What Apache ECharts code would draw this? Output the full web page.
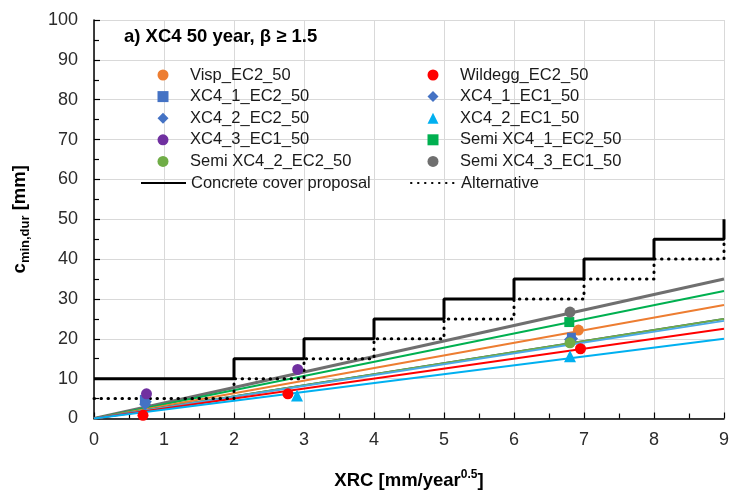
<!DOCTYPE html>
<html>
<head>
<meta charset="utf-8">
<script src="https://cdn.jsdelivr.net/npm/echarts@6/dist/echarts.min.js"></script>
<style>
  html, body { margin: 0; padding: 0; background: #fff; }
  #chart { width: 732px; height: 495px; }
</style>
</head>
<body>
<div id="chart"></div>
<script>
// Measured points [XRC, c_min,dur]
const visp      = [[6.92, 22.2]];
const wildegg   = [[0.70, 0.8], [2.77, 6.2], [6.95, 17.5]];
const xc41ec2   = [[0.72, 4.8], [6.82, 20.4]];
const xc41ec1   = [[0.74, 4.2], [6.83, 20.0]];
const xc42ec2   = [[0.73, 3.6], [6.80, 19.8]];
const xc42ec1   = [[2.90, 5.8], [6.80, 15.6]];
const xc43ec1   = [[0.75, 6.2], [2.91, 12.3]];
const semi1     = [[6.79, 24.2]];
const semi2     = [[6.80, 19.0]];
const semi3     = [[6.80, 26.7]];

// Trend lines through the origin: value reached at XRC = 9
const trendNames = ['semi3', 'semi1', 'visp', 'xc41', 'semi2', 'xc42', 'wildegg', 'xc42ec1'];
const trendEnd   = [35, 32, 28.5, 25, 25, 24.5, 22.5, 20];
const trendColor = ['#6f6f6f', '#00b050', '#ed7d31', '#1f3c78', '#70ad47', '#4aa9e6', '#ff0000', '#00b0f0'];

// Step limits
const stepX        = [0, 2, 3, 4, 5, 6, 7, 8, 9];
const coverY       = [10, 15, 20, 25, 30, 35, 40, 45, 50];
const alternativeY = [5, 10, 15, 20, 25, 30, 35, 40, 45];

const xTicks = [0, 9, 1];
const yTicks = [0, 100, 10];

const FONT = '"Liberation Sans", Arial, sans-serif';

const trendSeries = trendEnd.map((v, i) => ({
  name: 'trend_' + trendNames[i],
  type: 'line',
  data: [[0, 0], [9, v]],
  showSymbol: false,
  symbol: 'none',
  silent: true,
  lineStyle: { color: trendColor[i], width: i === 0 ? 3 : 2 },
  z: 2
}));

function pts(name, data, symbol, size, color) {
  return {
    name: name, type: 'scatter', data: data, symbol: symbol, symbolSize: size,
    symbolKeepAspect: true,
    itemStyle: { color: color, opacity: 1 }, z: 5
  };
}

const stepSeries = [
  {
    name: 'Concrete cover proposal', type: 'line', step: 'end',
    data: stepX.map((x, i) => [x, coverY[i]]),
    symbol: 'none', clip: false,
    lineStyle: { color: '#000', width: 3 }, itemStyle: { color: '#000' }, z: 3
  },
  {
    name: 'Alternative', type: 'line', step: 'end',
    data: stepX.map((x, i) => [x, alternativeY[i]]),
    symbol: 'none', clip: false,
    lineStyle: { color: '#000', width: 3, type: [0.5, 6.5], cap: 'round' }, itemStyle: { color: '#000' }, z: 3
  }
];

const scatterSeries = [
  pts('Visp_EC2_50', visp, 'circle', 11, '#ed7d31'),
  pts('Wildegg_EC2_50', wildegg, 'circle', 11, '#ff0000'),
  pts('XC4_1_EC2_50', xc41ec2, 'rect', 9, '#4472c4'),
  pts('XC4_1_EC1_50', xc41ec1, 'diamond', 12, '#4472c4'),
  pts('XC4_2_EC2_50', xc42ec2, 'diamond', 12, '#4472c4'),
  pts('XC4_2_EC1_50', xc42ec1, 'triangle', 12, '#00b0f0'),
  pts('XC4_3_EC1_50', xc43ec1, 'circle', 11, '#7030a0'),
  pts('Semi XC4_1_EC2_50', semi1, 'rect', 10, '#00b050'),
  pts('Semi XC4_2_EC2_50', semi2, 'circle', 11, '#70ad47'),
  pts('Semi XC4_3_EC1_50', semi3, 'circle', 11, '#6f6f6f')
];

const legendCol1 = ['Visp_EC2_50', 'XC4_1_EC2_50', 'XC4_2_EC2_50', 'XC4_3_EC1_50', 'Semi XC4_2_EC2_50'];
const legendCol2 = ['Wildegg_EC2_50', 'XC4_1_EC1_50', 'XC4_2_EC1_50', 'Semi XC4_1_EC2_50', 'Semi XC4_3_EC1_50'];

const markerLegendText = { fontFamily: FONT, fontSize: 16.5, color: '#1a1a1a', lineHeight: 18, padding: [0, 0, 0, 16.5] };
const lineLegendText = { fontFamily: FONT, fontSize: 16.5, color: '#1a1a1a', lineHeight: 18 };

function markerLegend(left, names) {
  return {
    orient: 'vertical', left: left, top: 66, itemWidth: 11, itemHeight: 11, itemGap: 3.6,
    textStyle: markerLegendText, selectedMode: false, padding: 0, symbolKeepAspect: true,
    data: names
  };
}
function lineLegend(left, name) {
  return {
    orient: 'vertical', left: left, top: 174, itemWidth: 45, itemHeight: 11,
    textStyle: lineLegendText, selectedMode: false, padding: 0,
    data: [{ name: name, itemStyle: { color: 'rgba(0,0,0,0)', borderWidth: 0, opacity: 0 } }]
  };
}

const chart = echarts.init(document.getElementById('chart'), null, { renderer: 'canvas' });
chart.setOption({
  animation: false,
  backgroundColor: '#fff',
  title: {
    text: 'a) XC4 50 year, \u03b2 \u2265 1.5',
    left: 124, top: 27, padding: 0,
    textStyle: { fontFamily: FONT, fontSize: 18.5, fontWeight: 'bold', color: '#000' }
  },
  legend: [
    markerLegend(157.5, legendCol1),
    markerLegend(427.5, legendCol2),
    lineLegend(140, 'Concrete cover proposal'),
    lineLegend(410, 'Alternative')
  ],
  grid: { left: 94, right: 5, top: 20, bottom: 75, containLabel: false },
  xAxis: {
    type: 'value', min: xTicks[0], max: xTicks[1], interval: xTicks[2],
    name: '{b|XRC [mm/year}{sup|0.5}{b|]}',
    nameLocation: 'middle', nameGap: 50,
    nameTextStyle: {
      rich: {
        b: { fontFamily: FONT, fontSize: 18.5, fontWeight: 'bold', color: '#000', lineHeight: 24 },
        sup: { fontFamily: FONT, fontSize: 12, fontWeight: 'bold', color: '#000', verticalAlign: 'top', lineHeight: 24, padding: [0, 0, 8, 0] }
      }
    },
    axisLine: { lineStyle: { color: '#000', width: 1.5 } },
    axisTick: { inside: true, length: 6, lineStyle: { color: '#000', width: 1.2 } },
    minorTick: { show: true, splitNumber: 2, length: 5, lineStyle: { color: '#000', width: 1.2 } },
    axisLabel: { fontFamily: FONT, fontSize: 18, color: '#2b2b2b', margin: 13 },
    splitLine: { show: true, lineStyle: { color: '#d9d9d9', width: 1 } }
  },
  yAxis: {
    type: 'value', min: yTicks[0], max: yTicks[1], interval: yTicks[2],
    name: '{b|c}{sub|min,dur}{b| [mm]}',
    nameLocation: 'middle', nameGap: 62, nameRotate: 90,
    nameTextStyle: {
      rich: {
        b: { fontFamily: FONT, fontSize: 18.5, fontWeight: 'bold', color: '#000', lineHeight: 24 },
        sub: { fontFamily: FONT, fontSize: 13, fontWeight: 'bold', color: '#000', verticalAlign: 'bottom', lineHeight: 24, padding: [8, 0, 0, 0] }
      }
    },
    axisLine: { show: true, lineStyle: { color: '#000', width: 1.5 } },
    axisTick: { show: true, inside: true, length: 6, lineStyle: { color: '#000', width: 1.2 } },
    minorTick: { show: true, splitNumber: 2, length: 5, lineStyle: { color: '#000', width: 1.2 } },
    axisLabel: { fontFamily: FONT, fontSize: 18, color: '#2b2b2b', margin: 16 },
    splitLine: { show: true, lineStyle: { color: '#d9d9d9', width: 1 } }
  },
  series: trendSeries.concat(stepSeries, scatterSeries)
});
</script>
</body>
</html>
